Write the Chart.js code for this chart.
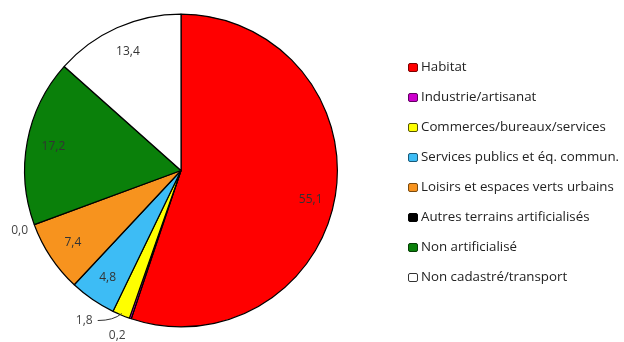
<!DOCTYPE html>
<html>
<head>
<meta charset="utf-8">
<script src="https://cdn.jsdelivr.net/npm/chart.js@4/dist/chart.umd.min.js"></script>
<style>
  html, body { margin: 0; padding: 0; background: #fff; }
  #wrap { position: relative; width: 624px; height: 342px; }
  #legend { position: absolute; left: 408px; top: 59px; font-family: "Open Sans", sans-serif; font-size: 13.3px; color: #222; }
  .item { height: 30px; display: flex; align-items: flex-start; white-space: nowrap; }
  .box { width: 8px; height: 7px; border: 1px solid; border-radius: 2px; margin-top: 4px; margin-right: 3px; }
  .txt { line-height: 17px; margin-top: -1px; }
</style>
</head>
<body>
<div id="wrap">
  <canvas id="c" width="624" height="342"></canvas>
  <div id="legend"></div>
</div>
<script>
const categories = ["Habitat", "Industrie/artisanat", "Commerces/bureaux/services", "Services publics et éq. commun.", "Loisirs et espaces verts urbains", "Autres terrains artificialisés", "Non artificialisé", "Non cadastré/transport"];
const values = [55.1, 0.2, 1.8, 4.8, 7.4, 0.0, 17.2, 13.4];
const colors = ["#ff0000", "#cc00cc", "#ffff00", "#3dbcf5", "#f7931e", "#000000", "#0a800a", "#ffffff"];
const legendBorders = ["#7a0000", "#600060", "#555500", "#1a5a78", "#7a4a10", "#000000", "#043d04", "#333333"];

const fmt = v => v.toFixed(1).replace('.', ',');

const labelPlugin = {
  id: 'sliceLabels',
  afterDatasetsDraw(chart) {
    const ctx = chart.ctx;
    const meta = chart.getDatasetMeta(0);
    ctx.save();
    ctx.font = '12px "Open Sans", sans-serif';
    ctx.textBaseline = 'middle';
    meta.data.forEach((arc, i) => {
      const v = values[i];
      const mid = (arc.startAngle + arc.endAngle) / 2;
      const R = arc.outerRadius;
      const cx = arc.x, cy = arc.y;
      const dx = Math.cos(mid), dy = Math.sin(mid);
      const text = fmt(v);
      if (v >= 3) {
        ctx.fillStyle = '#333';
        ctx.textAlign = 'center';
        const f = v > 50 ? 0.84 : 0.83;
        const off = v > 50 ? 8 : 0;
        ctx.fillText(text, cx + dx * R * f, cy + dy * R * f + off);
      } else if (v >= 1) {
        const sx = cx + dx * R * 0.99, sy = cy + dy * R * 0.99;
        const ex = sx - 24, ey = sy + 7;
        ctx.strokeStyle = '#333';
        ctx.lineWidth = 1;
        ctx.beginPath();
        ctx.moveTo(sx, sy);
        ctx.quadraticCurveTo(sx - 8, ey, ex, ey);
        ctx.stroke();
        ctx.fillStyle = '#444';
        ctx.textAlign = 'right';
        ctx.fillText(text, ex - 5, ey);
      } else if (v > 0) {
        ctx.fillStyle = '#444';
        ctx.textAlign = 'center';
        ctx.fillText(text, cx + dx * R * 1.1 - 8, cy + dy * R * 1.1 + 2);
      } else {
        ctx.fillStyle = '#444';
        ctx.textAlign = 'center';
        ctx.fillText(text, cx + dx * R * 1.1, cy + dy * R * 1.1);
      }
    });
    ctx.restore();
  }
};

new Chart(document.getElementById('c'), {
  type: 'pie',
  data: {
    labels: categories,
    datasets: [{
      data: values,
      backgroundColor: colors,
      borderColor: '#000',
      borderWidth: 1.2
    }]
  },
  options: {
    responsive: false,
    animation: false,
    layout: { padding: { left: 24, right: 286, top: 13, bottom: 14 } },
    plugins: { legend: { display: false }, tooltip: { enabled: false } }
  },
  plugins: [labelPlugin]
});

const lg = document.getElementById('legend');
categories.forEach((c, i) => {
  const it = document.createElement('div');
  it.className = 'item';
  const b = document.createElement('div');
  b.className = 'box';
  b.style.background = colors[i];
  b.style.borderColor = legendBorders[i];
  const t = document.createElement('div');
  t.className = 'txt';
  t.textContent = c;
  it.appendChild(b); it.appendChild(t);
  lg.appendChild(it);
});
</script>
</body>
</html>
